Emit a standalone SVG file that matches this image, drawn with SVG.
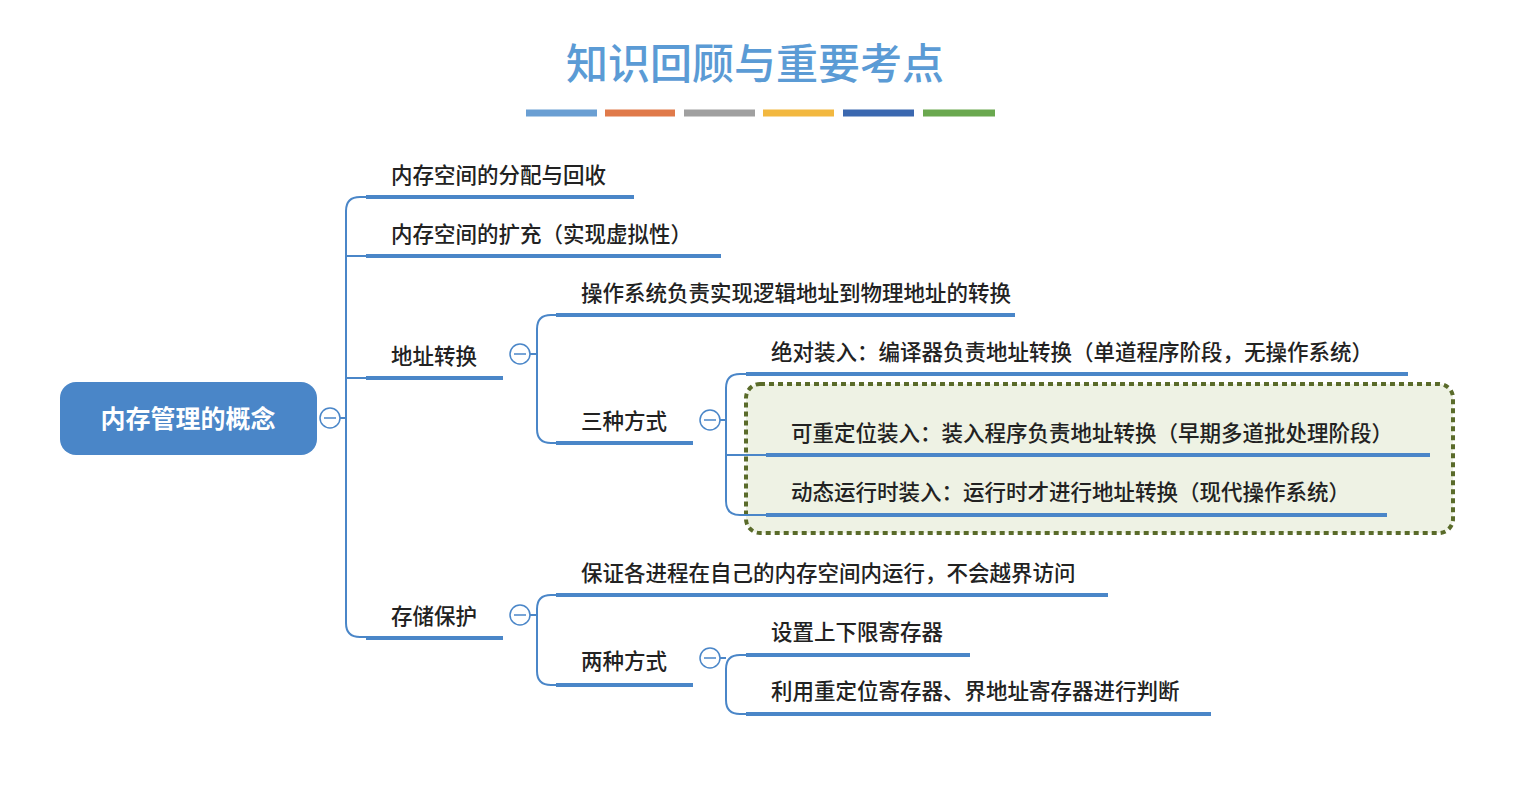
<svg xmlns="http://www.w3.org/2000/svg" width="1538" height="810" viewBox="0 0 1538 810">
<style>
text{font-family:"Noto Sans CJK SC","Noto Sans",sans-serif}
.t{font-size:21.5px;fill:#222;font-weight:500}
.u{stroke:#4a86c8;stroke-width:4;fill:none}
.c{stroke:#4a86c8;stroke-width:2;fill:none}
.k{fill:#fff;stroke:#4a86c8;stroke-width:1.5}
.m{stroke:#4a86c8;stroke-width:1.5}
</style>
<rect width="1538" height="810" fill="#fff"/>
<text x="755" y="79" text-anchor="middle" font-size="42" fill="#5b9bd5" font-weight="500">知识回顾与重要考点</text>
<g stroke-width="7">
<line x1="526" y1="113" x2="597" y2="113" stroke="#6a9fd3"/>
<line x1="605" y1="113" x2="675" y2="113" stroke="#e07a4a"/>
<line x1="684" y1="113" x2="755" y2="113" stroke="#a0a0a0"/>
<line x1="763" y1="113" x2="834" y2="113" stroke="#f2b840"/>
<line x1="843" y1="113" x2="914" y2="113" stroke="#3b68b0"/>
<line x1="923" y1="113" x2="995" y2="113" stroke="#6aa84f"/>
</g>
<rect x="746" y="384" width="707" height="149" rx="14" fill="#eef2e4" stroke="#5a6b2a" stroke-width="4" stroke-dasharray="5,4"/>
<g id="connectors">
<path class="c" d="M340,418 H346 M366,197 H360 Q346,197 346,211 V623 Q346,637 360,637 H366 M346,256 Q346,256 366,256 M346,378 H366"/>
<path class="c" d="M530,354 H537 M556,315 H551 Q537,315 537,329 V429 Q537,443 551,443 H556"/>
<path class="c" d="M720,420 H726 M746,374 H740 Q726,374 726,388 V501 Q726,515 740,515 H766 M726,455 H766"/>
<path class="c" d="M530,615 H537 M556,595 H551 Q537,595 537,609 V671 Q537,685 551,685 H556"/>
<path class="c" d="M720,658 H726 M746,655 H740 Q726,655 726,669 V700 Q726,714 740,714 H746"/>
</g>
<g id="root"><rect x="60" y="382" width="257" height="73" rx="16" fill="#4a86c8"/>
<text x="188" y="428" text-anchor="middle" font-size="25" font-weight="bold" fill="#fff">内存管理的概念</text>
<circle class="k" cx="330" cy="418" r="10"/><line class="m" x1="324" y1="418" x2="336" y2="418"/></g>
<g id="n1"><text class="t" x="391" y="183">内存空间的分配与回收</text><line class="u" x1="366" y1="197" x2="634" y2="197"/></g>
<g id="n2"><text class="t" x="391" y="242">内存空间的扩充（实现虚拟性）</text><line class="u" x1="366" y1="256" x2="721" y2="256"/></g>
<g id="n3"><text class="t" x="391" y="364">地址转换</text><line class="u" x1="366" y1="378" x2="503" y2="378"/>
<circle class="k" cx="520" cy="354" r="10"/><line class="m" x1="514" y1="354" x2="526" y2="354"/></g>
<g id="n4"><text class="t" x="391" y="624">存储保护</text><line class="u" x1="366" y1="638" x2="503" y2="638"/>
<circle class="k" cx="520" cy="615" r="10"/><line class="m" x1="514" y1="615" x2="526" y2="615"/></g>
<g id="n5"><text class="t" x="581" y="301">操作系统负责实现逻辑地址到物理地址的转换</text><line class="u" x1="556" y1="315" x2="1015" y2="315"/></g>
<g id="n6"><text class="t" x="581" y="429">三种方式</text><line class="u" x1="556" y1="443" x2="693" y2="443"/>
<circle class="k" cx="710" cy="420" r="10"/><line class="m" x1="704" y1="420" x2="716" y2="420"/></g>
<g id="n7"><text class="t" x="771" y="360">绝对装入：编译器负责地址转换（单道程序阶段，无操作系统）</text><line class="u" x1="746" y1="374" x2="1408" y2="374"/></g>
<g id="n8"><text class="t" x="791" y="441">可重定位装入：装入程序负责地址转换（早期多道批处理阶段）</text><line class="u" x1="766" y1="455" x2="1430" y2="455"/></g>
<g id="n9"><text class="t" x="791" y="500">动态运行时装入：运行时才进行地址转换（现代操作系统）</text><line class="u" x1="766" y1="515" x2="1387" y2="515"/></g>
<g id="n10"><text class="t" x="581" y="581">保证各进程在自己的内存空间内运行，不会越界访问</text><line class="u" x1="556" y1="595" x2="1108" y2="595"/></g>
<g id="n11"><text class="t" x="581" y="669">两种方式</text><line class="u" x1="556" y1="685" x2="693" y2="685"/>
<circle class="k" cx="710" cy="658" r="10"/><line class="m" x1="704" y1="658" x2="716" y2="658"/></g>
<g id="n12"><text class="t" x="771" y="640">设置上下限寄存器</text><line class="u" x1="746" y1="655" x2="970" y2="655"/></g>
<g id="n13"><text class="t" x="771" y="699">利用重定位寄存器、界地址寄存器进行判断</text><line class="u" x1="746" y1="714" x2="1211" y2="714"/></g>
</svg>
